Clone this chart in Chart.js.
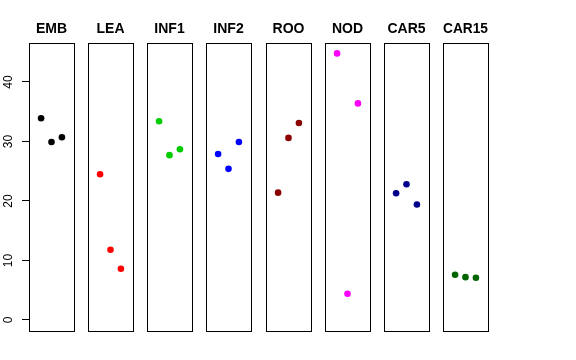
<!DOCTYPE html>
<html>
<head>
<meta charset="utf-8">
<script src="https://cdn.jsdelivr.net/npm/chart.js@4/dist/chart.umd.min.js"></script>
<style>
  html, body { margin: 0; padding: 0; background: #fff; }
  #wrap { position: relative; width: 576px; height: 360px; }
  #wrap canvas { position: absolute; top: 0; }
</style>
</head>
<body>
<div id="wrap"></div>
<script>
// panel names and colours
const panels = ['EMB', 'LEA', 'INF1', 'INF2', 'ROO', 'NOD', 'CAR5', 'CAR15'];
const colors = ['#000000', '#ff0000', '#00cd00', '#0000ff', '#8b0000', '#ff00ff', '#00008b', '#006400'];

// x position of the three replicates inside each panel
const xPos = [1, 2, 3];

// values
const emb   = [33.9, 29.9, 30.7];
const lea   = [24.5, 11.8, 8.6];
const inf1  = [33.4, 27.7, 28.7];
const inf2  = [27.9, 25.4, 29.9];
const roo   = [21.4, 30.6, 33.1];
const nod   = [44.8, 4.4, 36.4];
const car5  = [21.3, 22.8, 19.4];
const car15 = [7.6, 7.2, 7.1];
const series = [emb, lea, inf1, inf2, roo, nod, car5, car15];

const yTicks = [0, 10, 20, 30, 40];

Chart.defaults.font.family = '"Liberation Sans", Arial, sans-serif';
Chart.defaults.color = '#000';

// box around each panel
const framePlugin = {
    id: 'frame',
    beforeDatasetsDraw(chart) {
        const a = chart.chartArea;
        const c = chart.ctx;
        c.save();
        c.strokeStyle = '#000';
        c.lineWidth = 1;
        const l = Math.round(a.left) + 0.5, t = Math.round(a.top) + 0.5;
        const r = Math.round(a.right) + 0.5, b = Math.round(a.bottom) + 0.5;
        c.strokeRect(l, t, r - l, b - t);
        c.restore();
    }
};

const wrap = document.getElementById('wrap');
const pitch = 59.14, firstLeft = 29, panelW = 45, side = 7;

panels.forEach((name, i) => {
    const first = i === 0;
    const frameLeft = Math.round(firstLeft + i * pitch);
    // each canvas is centred on its panel so the title sits over it
    const cvLeft = first ? 0 : frameLeft - side;
    const cvW = first ? 2 * firstLeft + panelW : panelW + 2 * side;
    const cv = document.createElement('canvas');
    cv.width = cvW; cv.height = 360;
    cv.style.width = cvW + 'px'; cv.style.height = '360px';
    cv.style.left = cvLeft + 'px';
    wrap.appendChild(cv);
    new Chart(cv, {
        type: 'scatter',
        data: {
            datasets: [{
                data: xPos.map((x, j) => ({ x: x, y: series[i][j] })),
                backgroundColor: colors[i],
                borderColor: colors[i],
                pointRadius: 3.3,
                pointBorderWidth: 0,
            }]
        },
        options: {
            responsive: false,
            animation: false,
            events: [],
            layout: {
                padding: { left: first ? 0 : side, right: first ? 0 : side, top: 0, bottom: 29 }
            },
            plugins: {
                legend: { display: false },
                tooltip: { enabled: false },
                title: {
                    display: true,
                    text: name,
                    font: { size: 14, weight: 'bold', lineHeight: 1.2 },
                    padding: { top: 21, bottom: 5.2 },
                    color: '#000'
                }
            },
            scales: {
                x: {
                    type: 'linear', min: -0.16, max: 4.16,
                    display: false
                },
                y: {
                    type: 'linear', min: -1.85, max: 46.55,
                    display: first,
                    afterFit: s => { if (first) s.width = firstLeft; },
                    afterBuildTicks: s => { s.ticks = yTicks.map(v => ({ value: v })); },
                    border: { display: false },
                    grid: { drawOnChartArea: false, drawTicks: true, tickLength: 7, color: '#000' },
                    ticks: {
                        minRotation: 90, maxRotation: 90,
                        crossAlign: 'center',
                        padding: 7,
                        font: { size: 12 },
                        color: '#000'
                    }
                },
                // empty spacer on the right of the first panel, same width as the y axis
                yr: {
                    type: 'linear', position: 'right',
                    display: first,
                    afterFit: s => { if (first) s.width = firstLeft; },
                    border: { display: false },
                    grid: { display: false },
                    ticks: { display: false }
                }
            }
        },
        plugins: [framePlugin]
    });
});
</script>
</body>
</html>
